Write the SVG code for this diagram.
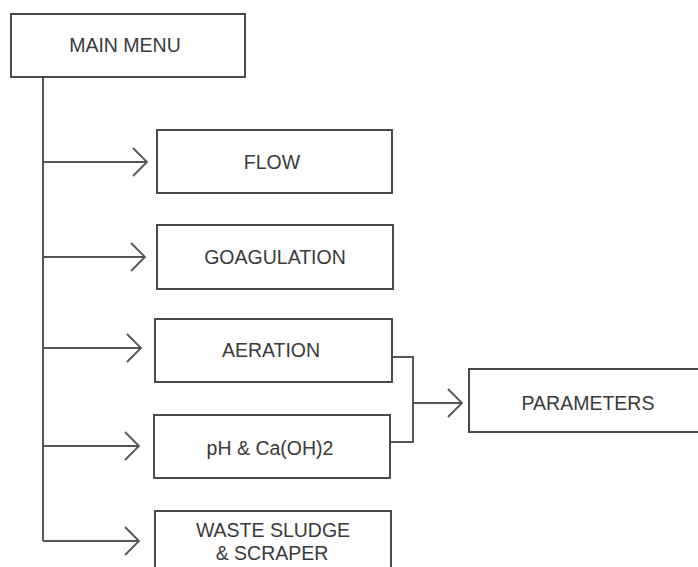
<svg xmlns="http://www.w3.org/2000/svg" width="698" height="567" viewBox="0 0 698 567">
<style>
.box{fill:#fff;stroke:#4a4a4a;stroke-width:2}
.lbl{font-family:"Liberation Sans",Arial,sans-serif;font-size:19.5px;fill:#3a3a3a;text-anchor:middle}
.con{fill:none;stroke:#555;stroke-width:2}
</style>
<defs>
<marker id="chev" markerUnits="userSpaceOnUse" viewBox="-16 -16 20 32" refX="0" refY="0" markerWidth="20" markerHeight="32" orient="auto" overflow="visible">
<path d="M-14,-14 L0,0 L-14,14" fill="none" stroke="#555" stroke-width="1.8"/>
</marker>
</defs>
<rect width="698" height="567" fill="#fff"/>
<g id="connectors">
<path class="con" d="M43,77 V541"/>
<path class="con" d="M43,162 H147" marker-end="url(#chev)"/>
<path class="con" d="M43,257 H145" marker-end="url(#chev)"/>
<path class="con" d="M43,348 H141" marker-end="url(#chev)"/>
<path class="con" d="M43,446 H139" marker-end="url(#chev)"/>
<path class="con" d="M43,541 H139" marker-end="url(#chev)"/>
<path class="con" d="M392,357 H413 V442 H390"/>
<path class="con" d="M413,403 H462" marker-end="url(#chev)"/>
</g>
<g id="main-menu">
<rect class="box" x="11" y="14" width="234" height="63"/>
<text class="lbl" x="125" y="52">MAIN MENU</text>
</g>
<g id="flow">
<rect class="box" x="157" y="130" width="235" height="63"/>
<text class="lbl" x="272" y="169">FLOW</text>
</g>
<g id="goagulation">
<rect class="box" x="157" y="225" width="236" height="64"/>
<text class="lbl" x="275" y="264">GOAGULATION</text>
</g>
<g id="aeration">
<rect class="box" x="155" y="319" width="237" height="63"/>
<text class="lbl" x="271" y="357">AERATION</text>
</g>
<g id="ph">
<rect class="box" x="154" y="415" width="236" height="63"/>
<text class="lbl" x="270" y="455">pH &amp; Ca(OH)2</text>
</g>
<g id="waste-sludge">
<rect class="box" x="155" y="511" width="236" height="70"/>
<text class="lbl" x="273" y="537">WASTE SLUDGE</text>
<text class="lbl" x="272" y="560">&amp; SCRAPER</text>
</g>
<g id="parameters">
<rect class="box" x="469" y="369" width="240" height="63"/>
<text class="lbl" x="588" y="410">PARAMETERS</text>
</g>
</svg>
